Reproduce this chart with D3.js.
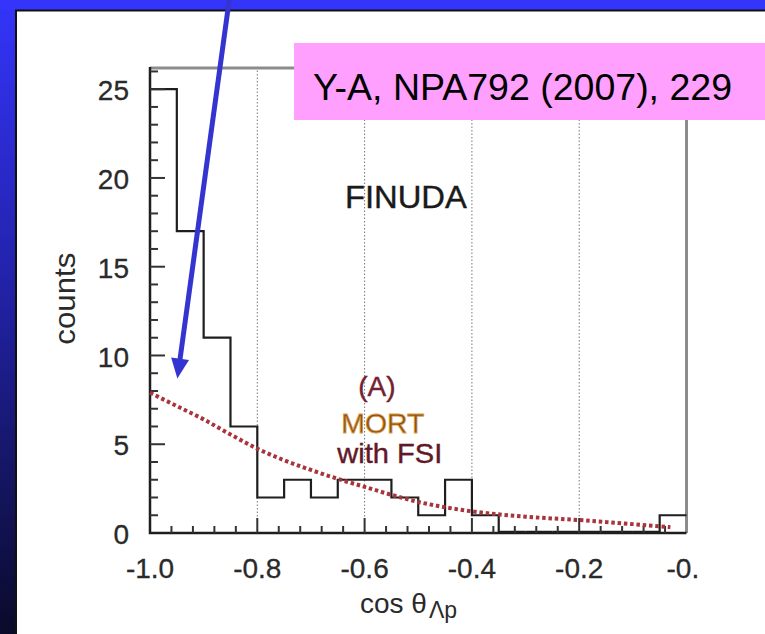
<!DOCTYPE html>
<html>
<head>
<meta charset="utf-8">
<script src="https://cdn.jsdelivr.net/npm/d3@7"></script>
<style>
  html, body { margin: 0; padding: 0; background: #fff; }
  svg { display: block; font-family: "Liberation Sans", Arial, sans-serif; }
</style>
</head>
<body>
<svg id="chart"></svg>
<script>
// histogram bins (lower edge) and counts
var binLo = [-1.0, -0.95, -0.9, -0.85, -0.8, -0.75, -0.7, -0.65, -0.6, -0.55,
             -0.5, -0.45, -0.4, -0.35, -0.3, -0.25, -0.2, -0.15, -0.1, -0.05]
var binHi = 0.0
var counts = [25, 17, 11, 6, 2, 3, 2, 3, 3, 2, 1, 3, 1, 0, 0, 0, 0, 0, 0, 1]

// MORT with FSI curve (A)
var mortX = [-1.0, -0.95, -0.9, -0.85, -0.8, -0.75, -0.7, -0.65, -0.6, -0.55, -0.5,
             -0.45, -0.4, -0.35, -0.3, -0.25, -0.2, -0.15, -0.1, -0.05, -0.03]
var mortY = [7.9, 7.15, 6.4, 5.55, 4.75, 4.1, 3.55, 3.05, 2.6, 2.15, 1.75,
             1.45, 1.22, 1.05, 0.92, 0.82, 0.73, 0.62, 0.5, 0.38, 0.33]

var xTicks = [-1.0, -0.8, -0.6, -0.4, -0.2, 0.0]
var xTickLabels = ["-1.0", "-0.8", "-0.6", "-0.4", "-0.2", "-0."]
var xMinor = [-0.96, -0.92, -0.88, -0.84, -0.76, -0.72, -0.68, -0.64, -0.56, -0.52, -0.48, -0.44,
              -0.36, -0.32, -0.28, -0.24, -0.16, -0.12, -0.08, -0.04]
var yTicks = [0, 5, 10, 15, 20, 25]
var yMinor = [1, 2, 3, 4, 6, 7, 8, 9, 11, 12, 13, 14, 16, 17, 18, 19, 21, 22, 23, 24, 26]

var width = 765, height = 634
var margin = ({top: 67, right: 78.5, bottom: 101, left: 150})

var svg = d3.select('#chart')
    .attr("width", width)
    .attr("height", height)
    .attr("viewBox", [0, 0, width, height])

// slide background: blue band top, gradient band left
var defs = svg.append("defs")
var grad = defs.append("linearGradient").attr("id", "side")
    .attr("x1", 0).attr("y1", 0).attr("x2", 0).attr("y2", 1)
grad.append("stop").attr("offset", "0%").attr("stop-color", "#3434fa")
grad.append("stop").attr("offset", "45%").attr("stop-color", "#2222a8")
grad.append("stop").attr("offset", "100%").attr("stop-color", "#0a0a2a")

svg.append("rect").attr("x", 0).attr("y", 0).attr("width", width).attr("height", height).attr("fill", "#fff")
svg.append("rect").attr("x", 0).attr("y", 0).attr("width", 16).attr("height", height).attr("fill", "url(#side)")
svg.append("rect").attr("x", 0).attr("y", 0).attr("width", width).attr("height", 10).attr("fill", "#3434fa")
svg.append("path").attr("d", `M16,${height}V10.5H${width}`)
    .attr("fill", "none").attr("stroke", "#111").attr("stroke-width", 2)

var x = d3.scaleLinear()
    .domain([-1, 0])
    .range([margin.left, width - margin.right])
var y = d3.scaleLinear()
    .domain([0, 26.25])
    .range([height - margin.bottom, margin.top])

// dotted grid at major x ticks
svg.append("g")
    .selectAll("line")
    .data(xTicks.slice(1, -1))
    .join("line")
    .attr("x1", d => x(d)).attr("x2", d => x(d))
    .attr("y1", y.range()[1]).attr("y2", y.range()[0])
    .attr("stroke", "#777")
    .attr("stroke-width", 1)
    .attr("stroke-dasharray", "1.5,2")

// frame: grey top and right
svg.append("path")
    .attr("d", `M${x(-1)},${y(26.25) + 1}H${x(0)}V${y(0)}`)
    .attr("fill", "none").attr("stroke", "#8c8c8c").attr("stroke-width", 3)

// histogram
var histPts = binLo.map((d, i) => [d, counts[i]])
histPts.push([binHi, counts[counts.length - 1]])
var step = d3.line()
    .x(d => x(d[0]))
    .y(d => y(d[1]))
    .curve(d3.curveStepAfter)
svg.append("path")
    .attr("d", step(histPts))
    .attr("fill", "none")
    .attr("stroke", "#1e1e1e")
    .attr("stroke-width", 2.2)
// empty bins sit on the axis as a heavier line
svg.append("g").selectAll("line")
    .data(binLo.filter((d, i) => counts[i] == 0))
    .join("line")
    .attr("x1", d => x(d)).attr("x2", d => x(d + 0.05))
    .attr("y1", y(0) - 1).attr("y2", y(0) - 1)
    .attr("stroke", "#1e1e1e").attr("stroke-width", 2.5)

// axes lines
svg.append("path")
    .attr("d", `M${x(-1)},${y(26.25)}V${y(0)}H${x(0)}`)
    .attr("fill", "none").attr("stroke", "#1e1e1e").attr("stroke-width", 2.5)

// y ticks
svg.append("g").selectAll("line").data(yTicks.slice(1)).join("line")
    .attr("x1", x(-1)).attr("x2", x(-1) + 15)
    .attr("y1", d => y(d)).attr("y2", d => y(d))
    .attr("stroke", "#333").attr("stroke-width", 2)
svg.append("g").selectAll("line").data(yMinor).join("line")
    .attr("x1", x(-1)).attr("x2", x(-1) + 8)
    .attr("y1", d => y(d)).attr("y2", d => y(d))
    .attr("stroke", "#333").attr("stroke-width", 2)
// x ticks
svg.append("g").selectAll("line").data(xTicks.slice(1, -1)).join("line")
    .attr("x1", d => x(d)).attr("x2", d => x(d))
    .attr("y1", y(0)).attr("y2", y(0) - 15)
    .attr("stroke", "#333").attr("stroke-width", 2)
svg.append("g").selectAll("line").data(xMinor).join("line")
    .attr("x1", d => x(d)).attr("x2", d => x(d))
    .attr("y1", y(0)).attr("y2", y(0) - 7)
    .attr("stroke", "#333").attr("stroke-width", 2)

// tick labels
svg.append("g")
    .attr("font-size", 28).attr("fill", "#2a2a2a").attr("text-anchor", "end")
    .attr("stroke", "#2a2a2a").attr("stroke-width", 0.3)
    .selectAll("text").data(yTicks).join("text")
    .attr("x", x(-1) - 21)
    .attr("y", d => y(d))
    .attr("dy", "0.4em")
    .text(d => d)
svg.append("g")
    .attr("font-size", 28).attr("fill", "#2a2a2a")
    .attr("stroke", "#2a2a2a").attr("stroke-width", 0.3)
    .selectAll("text").data(xTicks).join("text")
    .attr("x", d => x(d))
    .attr("y", y(0) + 45)
    .attr("text-anchor", (d, i) => i == xTicks.length - 1 ? "start" : "middle")
    .attr("dx", (d, i) => i == xTicks.length - 1 ? -20 : 0)
    .text((d, i) => xTickLabels[i])

// axis titles
svg.append("text")
    .attr("transform", `translate(75,${y(13.2)}) rotate(-90)`)
    .attr("text-anchor", "middle")
    .attr("font-size", 30).attr("fill", "#2a2a2a")
    .attr("textLength", 92).attr("lengthAdjust", "spacingAndGlyphs")
    .text("counts")
var xt = svg.append("text")
    .attr("x", 360).attr("y", y(0) + 80)
    .attr("font-size", 28).attr("fill", "#2a2a2a")
xt.append("tspan").text("cos θ")
xt.append("tspan").attr("dy", 5).attr("dx", 2).attr("font-size", 23).text("Λp")

// MORT curve
var mort = d3.line()
    .x((d, i) => x(mortX[i]))
    .y(d => y(d))
    .curve(d3.curveMonotoneX)
svg.append("path")
    .attr("d", mort(mortY))
    .attr("fill", "none")
    .attr("stroke", "#a8343c")
    .attr("stroke-width", 4)
    .attr("stroke-dasharray", "3.5,2.8")

// in-plot labels
svg.append("text")
    .attr("x", x(-0.523)).attr("y", y(18.3))
    .attr("text-anchor", "middle")
    .attr("font-size", 31).attr("fill", "#1a1a1a")
    .attr("stroke", "#1a1a1a").attr("stroke-width", 0.4)
    .attr("textLength", 122).attr("lengthAdjust", "spacingAndGlyphs")
    .text("FINUDA")
svg.append("text")
    .attr("x", x(-0.577)).attr("y", y(7.7))
    .attr("text-anchor", "middle")
    .attr("font-size", 28).attr("fill", "#742030")
    .attr("stroke", "#742030").attr("stroke-width", 0.4)
    .text("(A)")
svg.append("text")
    .attr("x", x(-0.566)).attr("y", y(5.65))
    .attr("text-anchor", "middle")
    .attr("font-size", 28).attr("fill", "#8a520e")
    .attr("stroke", "#d89a48").attr("stroke-width", 0.8)
    .attr("textLength", 83).attr("lengthAdjust", "spacingAndGlyphs")
    .text("MORT")
svg.append("text")
    .attr("x", x(-0.553)).attr("y", y(3.95))
    .attr("text-anchor", "middle")
    .attr("font-size", 28).attr("fill", "#621828")
    .attr("stroke", "#621828").attr("stroke-width", 0.4)
    .attr("textLength", 105).attr("lengthAdjust", "spacingAndGlyphs")
    .text("with FSI")

// reference box
svg.append("rect")
    .attr("x", 294).attr("y", 43)
    .attr("width", width - 294).attr("height", 77)
    .attr("fill", "#ffa0ff")
svg.append("text")
    .attr("x", 313).attr("y", 100)
    .attr("font-size", 37.5).attr("fill", "#000")
    .text("Y-A, NPA792 (2007), 229")

// blue arrow pointing to the curve start
var tip = [x(-0.949), y(8.7)]
var tail = [229.5, -2]
var dx = tip[0] - tail[0], dy = tip[1] - tail[1]
var len = Math.hypot(dx, dy)
var ux = dx / len, uy = dy / len
var bx = tip[0] - 20 * ux, by = tip[1] - 20 * uy
svg.append("line")
    .attr("x1", tail[0]).attr("y1", tail[1])
    .attr("x2", bx + 2 * ux).attr("y2", by + 2 * uy)
    .attr("stroke", "#3434d0").attr("stroke-width", 5)
svg.append("path")
    .attr("d", `M${tip[0]},${tip[1]}L${bx + 9 * uy},${by - 9 * ux}L${bx - 9 * uy},${by + 9 * ux}Z`)
    .attr("fill", "#3434d0")
</script>
</body>
</html>
